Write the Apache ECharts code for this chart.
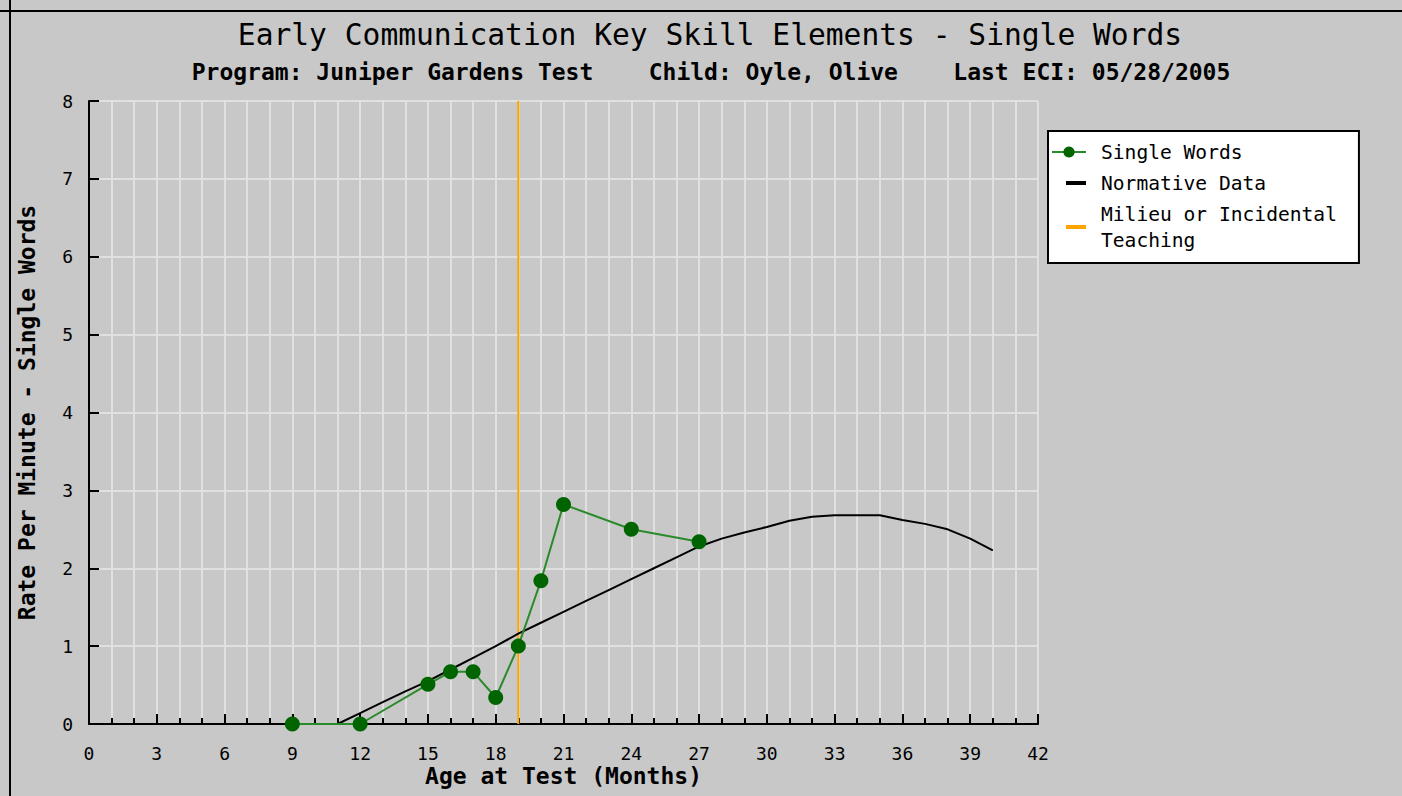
<!DOCTYPE html>
<html>
<head>
<meta charset="utf-8">
<script src="https://cdn.jsdelivr.net/npm/echarts@6/dist/echarts.min.js"></script>
<style>
html,body{margin:0;padding:0;background:#c8c8c8;}
#chart{width:1402px;height:796px;}
</style>
</head>
<body>
<div id="chart"></div>
<script>
// ---- data ----
var titleText = 'Early Communication Key Skill Elements - Single Words';
var subtitleText = 'Program: Juniper Gardens Test    Child: Oyle, Olive    Last ECI: 05/28/2005';
var xAxisName = 'Age at Test (Months)';
var yAxisName = 'Rate Per Minute - Single Words';

var singleWordsAges  = [9, 12, 15, 16, 17, 18, 19, 20, 21, 24, 27];
var singleWordsRates = [0, 0, 0.51, 0.67, 0.67, 0.34, 1.0, 1.84, 2.82, 2.50, 2.34];

var normAges  = [11, 12, 13, 14, 15, 16, 17, 18, 19, 20, 21, 22, 23, 24, 25, 26, 27, 28, 29, 30, 31, 32, 33, 34, 35, 36, 37, 38, 39, 40];
var normRates = [0, 0.14, 0.28, 0.42, 0.55, 0.70, 0.85, 1.00, 1.16, 1.30, 1.44, 1.58, 1.72, 1.86, 2.00, 2.14, 2.28, 2.38, 2.46, 2.53, 2.61, 2.66, 2.68, 2.68, 2.68, 2.62, 2.57, 2.50, 2.38, 2.23];

var milieuAge = [19, 19];
var milieuRange = [0, 8];

var seriesNames = ['Single Words', 'Normative Data', 'Milieu or Incidental Teaching'];
var legendLabels = {'Milieu or Incidental Teaching': 'Milieu or Incidental\nTeaching'};

function pairs(xs, ys) { return xs.map(function (x, i) { return [x, ys[i]]; }); }

var mono = '"DejaVu Sans Mono", "Liberation Mono", monospace';
var shortLineIcon = 'path://M0,2 M14,0 L34,0 L34,4 L14,4 Z';

var chart = echarts.init(document.getElementById('chart'), null, {renderer: 'svg'});
chart.setOption({
  backgroundColor: '#c8c8c8',
  animation: false,
  graphic: [
    {type: 'rect', shape: {x: 0, y: 10, width: 1402, height: 2}, style: {fill: '#000'}},
    {type: 'rect', shape: {x: 9, y: 0, width: 2, height: 796}, style: {fill: '#000'}},
    {type: 'text', x: 710, y: 35, style: {text: titleText, font: '29.6px ' + mono, fill: '#000', textAlign: 'center', textVerticalAlign: 'middle'}},
    {type: 'text', x: 711, y: 72, style: {text: subtitleText, font: 'bold 23px ' + mono, fill: '#000', textAlign: 'center', textVerticalAlign: 'middle'}}
  ],
  legend: {
    orient: 'vertical',
    left: 1048,
    top: 131,
    backgroundColor: '#fff',
    borderColor: '#000',
    borderWidth: 2,
    borderRadius: 0,
    padding: [8, 22, 10, 3],
    itemGap: 5,
    itemWidth: 34,
    itemHeight: 14,
    data: [
      {name: seriesNames[0]},
      {name: seriesNames[1], icon: shortLineIcon},
      {name: seriesNames[2], icon: shortLineIcon}
    ],
    formatter: function (name) { return legendLabels[name] || name; },
    textStyle: {fontFamily: mono, fontSize: 19.6, color: '#000', lineHeight: 26, padding: [0, 0, 0, 10]}
  },
  grid: {left: 89, right: 364, top: 101, bottom: 72},
  xAxis: {
    type: 'value',
    min: 0, max: 42, interval: 3,
    name: xAxisName,
    nameLocation: 'middle',
    nameGap: 52,
    nameMoveOverlap: false,
    nameTextStyle: {fontFamily: mono, fontSize: 23, fontWeight: 'bold', color: '#000', verticalAlign: 'middle'},
    axisLine: {show: true, onZero: false, lineStyle: {color: '#000', width: 2}},
    axisTick: {show: true, inside: true, length: 10, lineStyle: {color: '#000', width: 2}},
    minorTick: {show: true, splitNumber: 3, length: 6, lineStyle: {color: '#000', width: 2}},
    axisLabel: {fontFamily: mono, fontSize: 18, color: '#000', margin: 20},
    splitLine: {show: true, lineStyle: {color: '#e0e0e0', width: 2}},
    minorSplitLine: {show: true, lineStyle: {color: '#e0e0e0', width: 2}}
  },
  yAxis: {
    type: 'value',
    min: 0, max: 8, interval: 1,
    name: yAxisName,
    nameLocation: 'middle',
    nameGap: 51,
    nameTextStyle: {fontFamily: mono, fontSize: 23, fontWeight: 'bold', color: '#000'},
    axisLine: {show: true, lineStyle: {color: '#000', width: 2}},
    axisTick: {show: true, inside: true, length: 10, lineStyle: {color: '#000', width: 2}},
    axisLabel: {fontFamily: mono, fontSize: 18, color: '#000', margin: 16},
    splitLine: {show: true, lineStyle: {color: '#e0e0e0', width: 2}}
  },
  series: [
    {
      name: seriesNames[2],
      type: 'line',
      data: pairs(milieuAge, milieuRange),
      symbol: 'none',
      lineStyle: {color: '#ffa500', width: 2},
      itemStyle: {color: '#ffa500'},
      z: 1
    },
    {
      name: seriesNames[1],
      type: 'line',
      data: pairs(normAges, normRates),
      symbol: 'none',
      lineStyle: {color: '#000', width: 2},
      itemStyle: {color: '#000'},
      z: 2
    },
    {
      name: seriesNames[0],
      type: 'line',
      data: pairs(singleWordsAges, singleWordsRates),
      symbol: 'circle',
      symbolSize: 15,
      lineStyle: {color: '#2a8a2a', width: 2},
      itemStyle: {color: '#006400'},
      clip: false,
      z: 3
    }
  ]
});
</script>
</body>
</html>
